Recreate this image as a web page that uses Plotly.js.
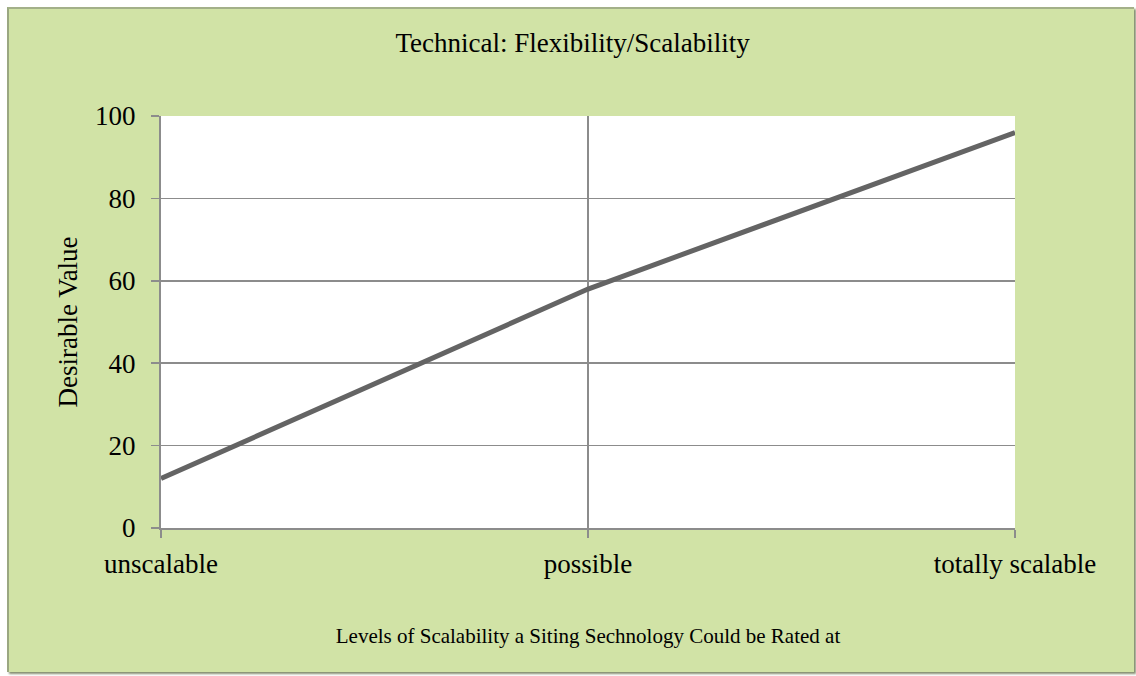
<!DOCTYPE html>
<html>
<head>
<meta charset="utf-8">
<script src="https://cdn.plot.ly/plotly-3.0.1.min.js"></script>
<style>
  body { margin: 0; background: #ffffff; }
  #frame {
    position: absolute; left: 7px; top: 7px; width: 1125px; height: 663px;
    background: #d1e3a6;
    border-left: 2px solid #9aa781; border-top: 2px solid #a3b089;
    box-shadow: 2px 2px 2px #858f70;
  }
  #chart { position: absolute; left: 0; top: 0; width: 1136px; height: 676px; }
</style>
</head>
<body>
<div id="frame"></div>
<div id="chart"></div>
<script>
// chart values
const levels = ['unscalable', 'possible', 'totally scalable'];
const desirableValue = [12, 58, 96];
const yTicks = [0, 20, 40, 60, 80, 100];

const serif = 'Liberation Serif, DejaVu Serif, serif';

function drawChart() {
    const trace = {
        x: levels,
        y: desirableValue,
        mode: 'lines',
        type: 'scatter',
        line: {color: '#646464', width: 5},
        hoverinfo: 'skip'
    };

    const layout = {
        width: 1136,
        height: 676,
        paper_bgcolor: 'rgba(0,0,0,0)',
        plot_bgcolor: '#ffffff',
        margin: {l: 161, r: 121, t: 116, b: 148},
        showlegend: false,
        font: {family: serif, color: '#000000', size: 27},
        title: {
            text: 'Technical: Flexibility/Scalability',
            font: {family: serif, size: 27, color: '#000000'},
            x: 0.504, xref: 'container', xanchor: 'center',
            y: 1 - 43 / 676, yref: 'container', yanchor: 'middle'
        },
        xaxis: {
            type: 'category',
            range: [0, 2],
            showgrid: true,
            gridcolor: '#8c8c8c',
            gridwidth: 1.5,
            showline: true,
            linecolor: '#8c8c8c',
            linewidth: 2,
            ticks: 'outside',
            ticklen: 8,
            tickcolor: '#8c8c8c',
            tickwidth: 1.5,
            tickfont: {family: serif, size: 27},
            ticklabelstandoff: 3,
            zeroline: false,
            title: {
                text: 'Levels of Scalability a Siting Sechnology Could be Rated at',
                font: {family: serif, size: 21},
                standoff: 50
            }
        },
        yaxis: {
            range: [0, 100],
            tickvals: yTicks,
            showgrid: true,
            gridcolor: '#8c8c8c',
            gridwidth: 1.5,
            showline: true,
            linecolor: '#8c8c8c',
            linewidth: 2,
            ticks: 'outside',
            ticklen: 8,
            tickcolor: '#8c8c8c',
            tickwidth: 1.5,
            tickfont: {family: serif, size: 27},
            ticklabelstandoff: 10,
            zeroline: false,
            title: {
                text: 'Desirable Value',
                font: {family: serif, size: 27},
                standoff: 10
            }
        }
    };

    Plotly.newPlot('chart', [trace], layout, {staticPlot: true});
}

drawChart();
</script>
</body>
</html>
